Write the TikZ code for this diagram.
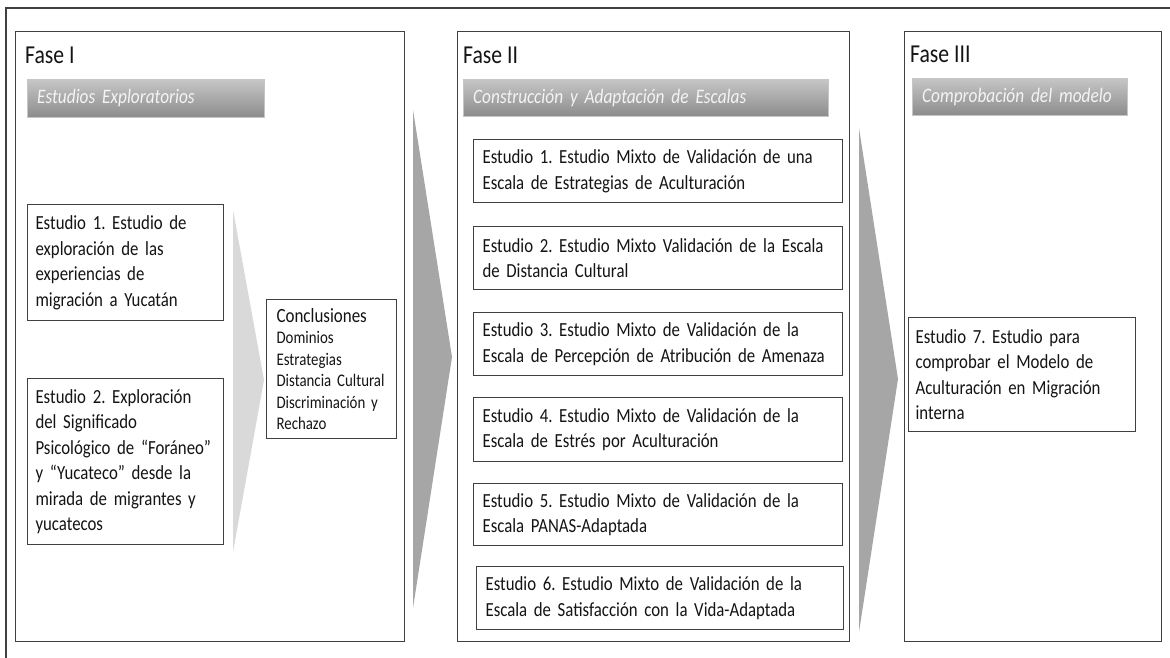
\documentclass[tikz,border=0pt]{standalone}
\usepackage{fontspec}
\setmainfont[FakeStretch=0.84]{Carlito}
\usetikzlibrary{positioning}
\frenchspacing
\hyphenpenalty=10000
\definecolor{linea}{RGB}{64,64,64}
\definecolor{texto}{RGB}{20,20,20}
\definecolor{flechaoscura}{RGB}{166,166,166}
\definecolor{flechaclara}{RGB}{217,217,217}
\definecolor{barraarriba}{RGB}{198,198,198}
\definecolor{barraabajo}{RGB}{140,140,140}
\definecolor{textobarra}{RGB}{244,244,244}

\begin{document}
\begin{tikzpicture}[x=1pt, y=-1pt,
		marco/.style={draw=linea, line width=1.2pt, anchor=north west, inner sep=0pt},
		titulo/.style={anchor=west, inner sep=0pt, text=texto, font=\fontsize{25.8}{30}\selectfont},
		barra/.style={anchor=north west, inner xsep=10pt, inner ysep=0pt, top color=barraarriba, bottom color=barraabajo, draw=barraarriba, text=textobarra, align=left, font=\fontsize{20.6}{22}\selectfont\itshape},
		estudio/.style={draw=linea, line width=1.1pt, fill=white, anchor=north west, inner xsep=9pt, inner ysep=0pt, align=left, text=texto, font=\fontsize{20}{25.5}\selectfont},
		conclusion/.style={estudio, inner xsep=10pt, font=\fontsize{17.7}{21.5}\selectfont},
		flecha/.style={fill=#1, draw=none}]
	\useasboundingbox[fill=white] (0,0) rectangle (1170,658);
	\draw[linea, line width=1.5pt] (1170,8) -- (6,8) -- (6,658);

	\node[marco, minimum width=389pt, minimum height=610pt] (faseI) at (15,31) {};
	\node[marco, minimum width=392pt, minimum height=610pt] (faseII) at (457,31) {};
	\node[marco, minimum width=257pt, minimum height=610pt] (faseIII) at (904,31) {};

	\node[titulo] (tituloI) at (25,55) {Fase I};
	\node[titulo] (tituloII) at (463,55) {Fase II};
	\node[titulo] (tituloIII) at (910,54) {Fase III};

	\node[barra, minimum width=237pt, minimum height=38pt, text width=217pt] (barraI) at (27,79) {Estudios Exploratorios};
	\node[barra, minimum width=365pt, minimum height=37pt, text width=345pt] (barraII) at (463,79) {Construcción y Adaptación de Escalas};
	\node[barra, minimum width=215pt, minimum height=37pt, text width=195pt] (barraIII) at (912,78) {Comprobación del modelo};

	\fill[flecha=flechaclara] (233,210) -- (264,380) -- (233,552) -- cycle;
	\fill[flecha=flechaoscura] (413,110) -- (452,357) -- (413,608) -- cycle;
	\fill[flecha=flechaoscura] (859,128) -- (898,379) -- (859,632) -- cycle;

	\node[estudio, minimum width=196pt, minimum height=116pt, text width=180pt, inner xsep=8pt] (exploracion) at (27,204) {Estudio 1. Estudio de\\ exploración de las\\ experiencias de\\ migración a Yucatán};
	\node[estudio, minimum width=196pt, minimum height=166pt, text width=180pt, inner xsep=8pt] (significado) at (27,378) {Estudio 2. Exploración\\ del Significado\\ Psicológico de “Foráneo”\\ y “Yucateco” desde la\\ mirada de migrantes y\\ yucatecos};
	\node[conclusion, minimum width=130pt, minimum height=139pt, text width=110pt] (conclusiones) at (266,299) {{\fontsize{20.2}{21.5}\selectfont Conclusiones}\\ Dominios\\ Estrategias\\ Distancia Cultural\\ Discriminación y\\ Rechazo};

	\node[estudio, minimum width=369pt, minimum height=63pt, text width=351pt] (estrategias) at (473,139) {Estudio 1. Estudio Mixto de Validación de una\\ Escala de Estrategias de Aculturación};
	\node[estudio, minimum width=369pt, minimum height=63pt, text width=351pt] (distancia) at (473,226) {Estudio 2. Estudio Mixto Validación de la Escala\\ de Distancia Cultural};
	\node[estudio, minimum width=369pt, minimum height=63pt, text width=351pt] (amenaza) at (473,312) {Estudio 3. Estudio Mixto de Validación de la\\ Escala de Percepción de Atribución de Amenaza};
	\node[estudio, minimum width=369pt, minimum height=64pt, text width=351pt] (estres) at (473,397) {Estudio 4. Estudio Mixto de Validación de la\\ Escala de Estrés por Aculturación};
	\node[estudio, minimum width=369pt, minimum height=62pt, text width=351pt] (panas) at (473,483) {Estudio 5. Estudio Mixto de Validación de la\\ Escala PANAS-Adaptada};
	\node[estudio, minimum width=367pt, minimum height=63pt, text width=349pt] (satisfaccion) at (476,566) {Estudio 6. Estudio Mixto de Validación de la\\ Escala de Satisfacción con la Vida-Adaptada};

	\node[estudio, inner xsep=7pt, minimum width=227pt, minimum height=114pt, text width=213pt] (modelo) at (908,317) {Estudio 7. Estudio para\\ comprobar el Modelo de\\ Aculturación en Migración\\ interna};
\end{tikzpicture}
\end{document}
